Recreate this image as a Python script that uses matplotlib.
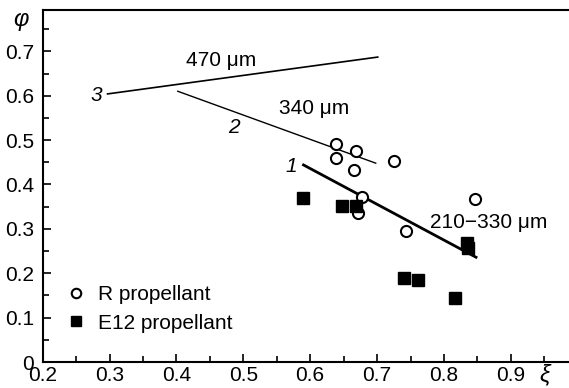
"""
Phi vs xi for R and E12 propellants.
"""

import matplotlib
matplotlib.use("Agg")
import matplotlib.pyplot as plt
from matplotlib.ticker import MultipleLocator

plt.rcParams['font.family'] = ['Liberation Sans', 'DejaVu Sans']

# R propellant (open circles)
r_xi = [0.638, 0.669, 0.639, 0.725, 0.665, 0.678, 0.671, 0.744, 0.846]
r_phi = [0.491, 0.475, 0.459, 0.453, 0.432, 0.372, 0.336, 0.295, 0.367]

# E12 propellant (filled squares)
e_xi = [0.590, 0.648, 0.669, 0.834, 0.836, 0.740, 0.761, 0.816]
e_phi = [0.369, 0.351, 0.351, 0.268, 0.257, 0.189, 0.185, 0.144]

# fitted lines 1, 2, 3
line1_xi = [0.590, 0.848]
line1_phi = [0.444, 0.236]
line2_xi = [0.402, 0.698]
line2_phi = [0.610, 0.448]
line3_xi = [0.297, 0.701]
line3_phi = [0.604, 0.687]

FS = 15

fig = plt.figure(figsize=(5.69, 3.88), dpi=100)
ax = fig.add_axes([0.075, 0.067, 0.925, 0.906])

ax.plot(line1_xi, line1_phi, color='black', lw=2.0)
ax.plot(line2_xi, line2_phi, color='black', lw=1.0)
ax.plot(line3_xi, line3_phi, color='black', lw=1.2)

ax.plot(r_xi, r_phi, 'o', mfc='white', mec='black', mew=1.5, ms=8,
        label='R propellant')
ax.plot(e_xi, e_phi, 's', mfc='black', mec='black', ms=8,
        label='E12 propellant')

# curve labels
ax.text(0.467, 0.680, '470 \u03bcm', fontsize=FS, ha='center', va='center')
ax.text(0.606, 0.572, '340 \u03bcm', fontsize=FS, ha='center', va='center')
ax.text(0.867, 0.315, '210\u2212330 \u03bcm', fontsize=FS, ha='center', va='center')
ax.text(0.280, 0.600, '3', fontsize=FS, style='italic', ha='center', va='center')
ax.text(0.486, 0.529, '2', fontsize=FS, style='italic', ha='center', va='center')
ax.text(0.572, 0.441, '1', fontsize=FS, style='italic', ha='center', va='center')

ax.set_xlim(0.2, 0.987)
ax.set_ylim(0, 0.792)
ax.xaxis.set_minor_locator(MultipleLocator(0.05))
ax.yaxis.set_minor_locator(MultipleLocator(0.05))
ax.set_xticks([0.2, 0.3, 0.4, 0.5, 0.6, 0.7, 0.8, 0.9])
ax.set_xticklabels(['0.2', '0.3', '0.4', '0.5', '0.6', '0.7', '0.8', '0.9'])
ax.set_yticks([0, 0.1, 0.2, 0.3, 0.4, 0.5, 0.6, 0.7])
ax.set_yticklabels(['0', '0.1', '0.2', '0.3', '0.4', '0.5', '0.6', '0.7'])
ax.tick_params(which='both', direction='in', labelsize=FS, width=1.2,
               top=False, right=False)
ax.tick_params(which='major', length=6)
ax.tick_params(which='minor', length=4)
ax.tick_params(axis='y', pad=6)
ax.tick_params(axis='x', pad=3)
ax.spines['right'].set_visible(False)
for s in ['left', 'bottom', 'top']:
    ax.spines[s].set_linewidth(1.5)
    ax.spines[s].set_color('black')

# axis symbols
fig.text(0.036, 0.950, '\u03c6', fontsize=17, style='italic', ha='center', va='center')
fig.text(0.958, 0.035, '\u03be', fontsize=17, style='italic', ha='center', va='center')

ax.legend(loc='lower left', bbox_to_anchor=(0.0, 0.03), frameon=False,
          fontsize=FS, handletextpad=0.35, labelspacing=0.45,
          handlelength=1.4, markerscale=0.85)

fig.savefig('out.png', dpi=100)
